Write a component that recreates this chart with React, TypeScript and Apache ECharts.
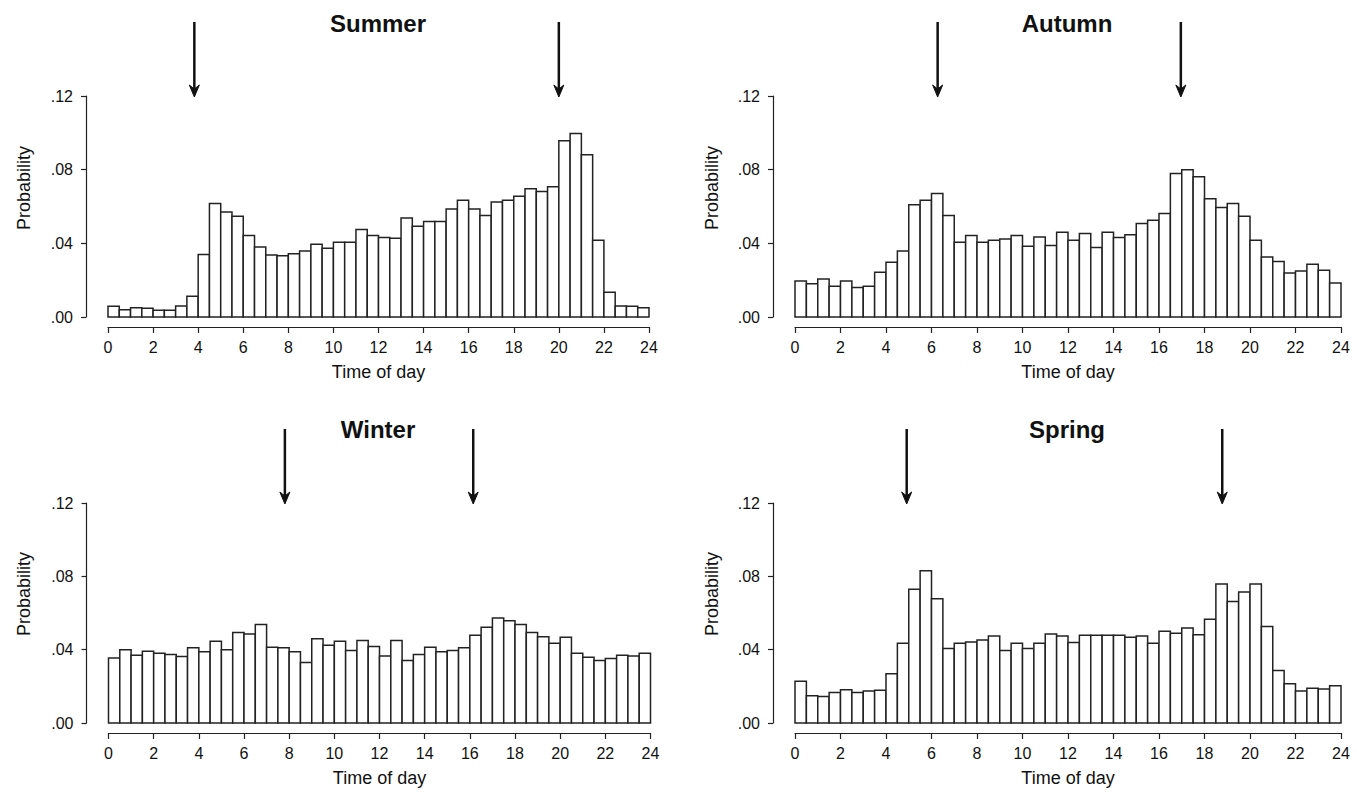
import React, { useEffect, useRef } from "react";
import * as echarts from "echarts";

// Half-hour bins: start hour of each bin
const binStarts: number[] = Array.from({ length: 48 }, (_, i) => i * 0.5);
const binWidth = 0.5;

const titles = ["Summer", "Autumn", "Winter", "Spring"];
const yMax = 0.12;
const yInterval = 0.04;
const xMax = 24;
const xInterval = 2;

const summer = [
  0.0058, 0.004, 0.005, 0.0047, 0.0036, 0.0036, 0.006, 0.0112,
  0.034, 0.0616, 0.057, 0.0547, 0.0442, 0.038, 0.0337, 0.0333,
  0.0344, 0.0359, 0.0395, 0.0373, 0.0406, 0.0406, 0.0475, 0.0442,
  0.0431, 0.0428, 0.0537, 0.0493, 0.0518, 0.0518, 0.0587, 0.0634,
  0.0587, 0.0551, 0.0624, 0.0634, 0.0656, 0.0696, 0.0682, 0.0707,
  0.0957, 0.0997, 0.0881, 0.0417, 0.0134, 0.006, 0.0058, 0.005,
];

const autumn = [
  0.0196, 0.0181, 0.0207, 0.0167, 0.0196, 0.016, 0.0167, 0.0243,
  0.0297, 0.0359, 0.0609, 0.0634, 0.0671, 0.0551, 0.0406, 0.0442,
  0.0406, 0.0417, 0.0424, 0.0442, 0.0384, 0.0435, 0.0388, 0.046,
  0.0417, 0.0453, 0.0377, 0.046, 0.0431, 0.0446, 0.0508, 0.0526,
  0.0562, 0.0779, 0.08, 0.0761, 0.0642, 0.0595, 0.0616, 0.0547,
  0.0417, 0.0326, 0.0301, 0.0239, 0.025, 0.0286, 0.0254, 0.0185,
];

const winter = [
  0.0355, 0.0399, 0.037, 0.0391, 0.0381, 0.0373, 0.0363, 0.041,
  0.0388, 0.0446, 0.0399, 0.0493, 0.0486, 0.0537, 0.0413, 0.041,
  0.0388, 0.033, 0.046, 0.0424, 0.0446, 0.0395, 0.045, 0.0417,
  0.0366, 0.045, 0.0341, 0.0373, 0.0413, 0.0388, 0.0395, 0.041,
  0.0479, 0.0522, 0.0573, 0.0558, 0.0537, 0.0493, 0.0471, 0.0435,
  0.0468, 0.0381, 0.0359, 0.0341, 0.0352, 0.037, 0.0366, 0.0381,
];

const spring = [
  0.0228, 0.0149, 0.0145, 0.0167, 0.0181, 0.0167, 0.0174, 0.0178,
  0.0268, 0.0435, 0.0729, 0.083, 0.0678, 0.0406, 0.0435, 0.0442,
  0.0453, 0.0475, 0.0395, 0.0435, 0.0406, 0.0435, 0.0486, 0.0475,
  0.0439, 0.0479, 0.0479, 0.0479, 0.0479, 0.0468, 0.0475, 0.0435,
  0.05, 0.0489, 0.0518, 0.0482, 0.0566, 0.0758, 0.0663, 0.0714,
  0.0758, 0.0526, 0.0286, 0.0214, 0.0174, 0.0189, 0.0185, 0.0203,
];

// Arrow positions (hour of day)
const summerArrows = [3.83, 20.0];
const autumnArrows = [6.27, 16.96];
const winterArrows = [7.81, 16.15];
const springArrows = [4.91, 18.78];

const seriesValues = [summer, autumn, winter, spring];
const arrowValues = [summerArrows, autumnArrows, winterArrows, springArrows];

const FONT = "Liberation Sans, Arial, sans-serif";

const grids = [
  { left: 108, top: 96, width: 541, height: 221 },
  { left: 795, top: 96, width: 546, height: 221 },
  { left: 108.5, top: 503, width: 542, height: 220 },
  { left: 795, top: 503, width: 546, height: 220 },
];
const yOffsets = [22, 22, 22, 22];
const titlePos = [
  [378, 23],
  [1067, 23],
  [378, 429],
  [1067, 429],
];
const probPos = [
  [24, 188],
  [712, 188],
  [24, 594],
  [712, 594],
];

function buildOption() {
  const axisColor = "#222";
  const xAxis: any[] = [];
  const yAxis: any[] = [];
  const series: any[] = [];
  const graphic: any[] = [];

  grids.forEach((g, i) => {
    xAxis.push({
      type: "value",
      gridIndex: i,
      min: 0,
      max: xMax,
      interval: xInterval,
      offset: 10,
      axisLine: { show: true, onZero: false, lineStyle: { color: axisColor, width: 1.2 } },
      axisTick: { show: true, length: 6, lineStyle: { color: axisColor, width: 1.2 } },
      axisLabel: { fontSize: 16, color: "#111", fontFamily: FONT, margin: 12 },
      splitLine: { show: false },
      name: "Time of day",
      nameLocation: "middle",
      nameGap: 36,
      nameMoveOverlap: false,
      nameTextStyle: { fontSize: 18, color: "#111", fontFamily: FONT },
    });
    yAxis.push({
      type: "value",
      gridIndex: i,
      min: 0,
      max: yMax,
      interval: yInterval,
      offset: yOffsets[i],
      axisLine: { show: true, onZero: false, lineStyle: { color: axisColor, width: 1.2 } },
      axisTick: { show: true, length: 5, lineStyle: { color: axisColor, width: 1.2 } },
      axisLabel: {
        fontSize: 16,
        color: "#111",
        fontFamily: FONT,
        margin: 13,
        formatter: (v: number) => v.toFixed(2).replace(/^0/, ""),
      },
      splitLine: { show: false },
    });

    const vals = seriesValues[i];
    series.push({
      type: "custom",
      xAxisIndex: i,
      yAxisIndex: i,
      silent: true,
      encode: { x: [0, 1], y: 2 },
      data: binStarts.map((s, k) => [s, s + binWidth, vals[k]]),
      renderItem: (params: any, api: any) => {
        const p0 = api.coord([api.value(0), api.value(2)]);
        const p1 = api.coord([api.value(1), 0]);
        return {
          type: "rect",
          shape: { x: p0[0], y: p0[1], width: p1[0] - p0[0], height: p1[1] - p0[1] },
          style: { fill: "#fff", stroke: "#222", lineWidth: 1.5 },
        };
      },
    });

    series.push({
      type: "custom",
      xAxisIndex: i,
      yAxisIndex: i,
      silent: true,
      clip: false,
      encode: { x: 0, y: 1 },
      data: arrowValues[i].map((h) => [h, yMax]),
      renderItem: (params: any, api: any) => {
        const p = api.coord([api.value(0), api.value(1)]);
        const x = p[0];
        const y = p[1] + 1;
        return {
          type: "group",
          children: [
            {
              type: "line",
              shape: { x1: x, y1: y - 75, x2: x, y2: y - 6 },
              style: { stroke: "#111", lineWidth: 2.5 },
            },
            {
              type: "polygon",
              shape: { points: [[x - 5, y - 12], [x, y], [x + 5, y - 12], [x, y - 8]] },
              style: { fill: "#111", stroke: "#111", lineWidth: 1 },
            },
          ],
        };
      },
    });

    graphic.push({
      type: "text",
      x: titlePos[i][0],
      y: titlePos[i][1],
      style: {
        text: titles[i],
        textAlign: "center",
        textVerticalAlign: "middle",
        fontSize: 24,
        fontWeight: "bold",
        fontFamily: FONT,
        fill: "#111",
      },
    });
    graphic.push({
      type: "text",
      x: probPos[i][0],
      y: probPos[i][1],
      rotation: Math.PI / 2,
      style: {
        text: "Probability",
        textAlign: "center",
        textVerticalAlign: "middle",
        fontSize: 18,
        fontFamily: FONT,
        fill: "#111",
      },
    });
  });

  return {
    animation: false,
    backgroundColor: "#fff",
    grid: grids.map((g) => ({ ...g, containLabel: false })),
    xAxis,
    yAxis,
    series,
    graphic,
  };
}

export default function App() {
  const ref = useRef<HTMLDivElement>(null);
  useEffect(() => {
    if (!ref.current) return;
    const chart = echarts.init(ref.current, undefined, { renderer: "svg" });
    chart.setOption(buildOption() as any);
    return () => chart.dispose();
  }, []);
  return (
    <div
      ref={ref}
      style={{ position: "fixed", left: 0, top: 0, width: 1357, height: 792, background: "#fff" }}
    />
  );
}
